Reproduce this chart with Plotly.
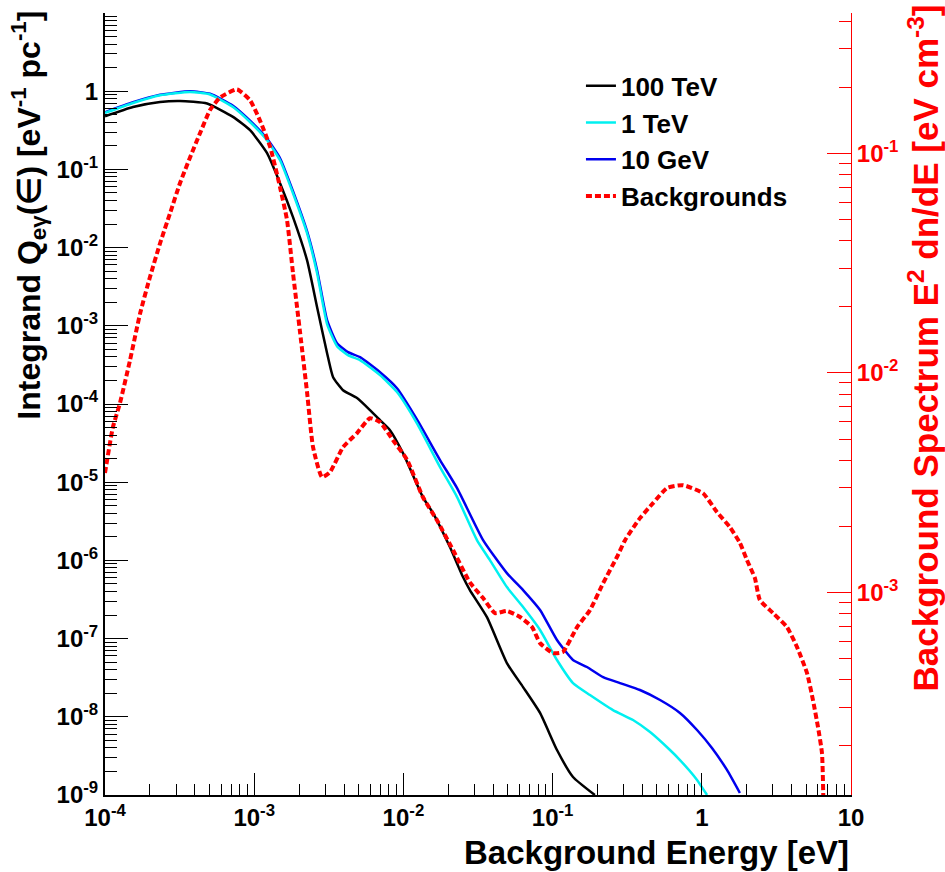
import plotly.graph_objects as go

# ---------------- data ----------------
# 100 TeV
e_100tev = [1.00e-4, 1.54e-4, 2.34e-4, 3.18e-4, 4.83e-4, 7.21e-4, 9.38e-4, 1.22e-3, 1.49e-3, 1.82e-3,
            2.26e-3, 2.64e-3, 3.08e-3, 3.38e-3, 3.94e-3, 4.89e-3, 5.97e-3, 6.97e-3, 8.13e-3, 9.94e-3,
            1.35e-2, 1.58e-2, 2.05e-2, 2.51e-2, 2.79e-2, 3.63e-2, 4.94e-2, 6.34e-2, 8.24e-2, 1.07e-1,
            1.37e-1, 1.92e-1]
q_100tev = [0.478, 0.629, 0.728, 0.750, 0.695, 0.469, 0.317, 0.161, 0.0665, 0.0245,
            6.90e-3, 1.73e-3, 4.47e-4, 2.20e-4, 1.50e-4, 1.19e-4, 8.35e-5, 6.22e-5, 4.63e-5, 2.35e-5,
            6.45e-6, 4.03e-6, 1.48e-6, 6.12e-7, 4.17e-7, 1.88e-7, 4.87e-8, 2.40e-8, 1.12e-8, 3.76e-9,
            1.70e-9, 1.00e-9]

# 1 TeV
e_1tev = [1.00e-4, 1.54e-4, 2.34e-4, 3.72e-4, 5.06e-4, 7.21e-4, 9.38e-4, 1.22e-3, 1.49e-3, 1.82e-3,
          2.26e-3, 2.64e-3, 3.08e-3, 3.59e-3, 4.25e-3, 5.12e-3, 6.97e-3, 9.06e-3, 1.23e-2, 1.76e-2,
          2.29e-2, 3.11e-2, 3.80e-2, 4.94e-2, 6.34e-2, 8.24e-2, 1.07e-1, 1.37e-1, 1.78e-1, 2.54e-1,
          3.46e-1, 4.50e-1, 6.12e-1, 7.14e-1, 9.29e-1, 1.084]
q_1tev = [0.527, 0.707, 0.887, 0.978, 0.906, 0.629, 0.404, 0.236, 0.131, 0.0496,
          0.0153, 4.71e-3, 1.05e-3, 5.49e-4, 4.21e-4, 3.64e-4, 2.34e-4, 1.42e-4, 5.69e-5, 1.56e-5,
          6.45e-6, 1.82e-6, 1.01e-6, 4.56e-7, 2.53e-7, 1.29e-7, 5.32e-8, 2.70e-8, 1.90e-8, 1.22e-8,
          9.10e-9, 6.38e-9, 3.76e-9, 2.80e-9, 1.56e-9, 1.00e-9]

# 10 GeV
e_10gev = [1.00e-4, 1.54e-4, 2.34e-4, 3.72e-4, 5.06e-4, 7.21e-4, 9.38e-4, 1.22e-3, 1.49e-3, 1.82e-3,
           2.26e-3, 2.64e-3, 3.08e-3, 3.59e-3, 4.25e-3, 5.12e-3, 6.97e-3, 9.06e-3, 1.23e-2, 1.76e-2,
           2.29e-2, 3.42e-2, 4.94e-2, 6.34e-2, 8.24e-2, 1.07e-1, 1.37e-1, 1.70e-1, 2.18e-1, 2.83e-1,
           3.85e-1, 5.25e-1, 7.14e-1, 9.29e-1, 1.17, 1.475, 1.80]
q_10gev = [0.538, 0.722, 0.900, 0.998, 0.927, 0.651, 0.419, 0.246, 0.139, 0.0526,
           0.0162, 5.14e-3, 1.18e-3, 6.00e-4, 4.60e-4, 3.97e-4, 2.55e-4, 1.59e-4, 6.40e-5, 1.92e-5,
           8.40e-6, 1.82e-6, 6.88e-7, 4.17e-7, 2.32e-7, 9.58e-8, 5.32e-8, 4.33e-8, 3.22e-8, 2.70e-8,
           2.20e-8, 1.64e-8, 1.12e-8, 6.78e-9, 3.99e-9, 2.09e-9, 1.06e-9]

# Backgrounds (right axis, E^2 dn/dE)
e_bkg = [1.00e-4, 1.13e-4, 1.26e-4, 1.47e-4, 1.72e-4, 2.00e-4, 2.34e-4, 2.73e-4, 3.18e-4, 3.72e-4,
         4.34e-4, 5.06e-4, 5.90e-4, 7.67e-4, 9.38e-4, 1.09e-3, 1.28e-3, 1.49e-3, 1.66e-3, 1.82e-3,
         2.03e-3, 2.26e-3, 2.48e-3, 2.85e-3, 3.22e-3, 3.94e-3, 4.89e-3, 5.97e-3, 6.97e-3, 8.51e-3,
         1.06e-2, 1.35e-2, 1.68e-2, 2.15e-2, 2.79e-2, 3.42e-2, 4.11e-2, 4.94e-2, 6.05e-2, 7.28e-2,
         8.24e-2, 1.006e-1, 1.17e-1, 1.46e-1, 1.78e-1, 2.18e-1, 2.70e-1, 3.06e-1, 3.85e-1, 4.71e-1,
         5.85e-1, 7.48e-1, 1.019, 1.265, 1.545, 1.80, 2.01, 2.27, 2.45, 3.00,
         3.72, 4.35, 5.07, 5.56, 6.01, 6.39, 6.55]
b_bkg = [3.50e-3, 5.66e-3, 7.29e-3, 1.14e-2, 1.87e-2, 2.73e-2, 3.90e-2, 5.35e-2, 7.32e-2, 9.62e-2,
         0.124, 0.158, 0.180, 0.196, 0.175, 0.142, 0.107, 7.02e-2, 4.97e-2, 2.85e-2,
         1.53e-2, 8.18e-3, 4.59e-3, 3.35e-3, 3.53e-3, 4.59e-3, 5.32e-3, 6.22e-3, 5.97e-3, 4.94e-3,
         4.01e-3, 2.72e-3, 2.13e-3, 1.56e-3, 1.11e-3, 9.42e-4, 8.05e-4, 8.22e-4, 7.72e-4, 6.95e-4,
         5.87e-4, 5.29e-4, 5.35e-4, 6.95e-4, 8.30e-4, 1.10e-3, 1.45e-3, 1.73e-3, 2.18e-3, 2.55e-3,
         2.99e-3, 3.08e-3, 2.83e-3, 2.32e-3, 1.98e-3, 1.68e-3, 1.40e-3, 1.16e-3, 9.23e-4, 8.05e-4,
         6.95e-4, 5.63e-4, 4.29e-4, 3.23e-4, 2.43e-4, 1.85e-4, 1.00e-4]

x_tickvals = [1e-4, 1e-3, 1e-2, 1e-1, 1, 10]
x_ticktext = ["10<sup>-4</sup>", "10<sup>-3</sup>", "10<sup>-2</sup>", "10<sup>-1</sup>", "1", "10"]
y_tickvals = [1e-9, 1e-8, 1e-7, 1e-6, 1e-5, 1e-4, 1e-3, 1e-2, 1e-1, 1, 10]
y_ticktext = ["10<sup>-9</sup>", "10<sup>-8</sup>", "10<sup>-7</sup>", "10<sup>-6</sup>", "10<sup>-5</sup>",
              "10<sup>-4</sup>", "10<sup>-3</sup>", "10<sup>-2</sup>", "10<sup>-1</sup>", "1", "10"]
y2_tickvals = [1e-3, 1e-2, 1e-1]
y2_ticktext = ["10<sup>-3</sup>", "10<sup>-2</sup>", "10<sup>-1</sup>"]

# ---------------- figure ----------------
FONT = "Liberation Sans, Arial, sans-serif"
fig = go.Figure()

fig.add_trace(go.Scatter(x=e_100tev, y=q_100tev, mode="lines", name="100 TeV",
                         line=dict(color="black", width=2.5, shape="spline", smoothing=0.5),
                         legendrank=1))
fig.add_trace(go.Scatter(x=e_10gev, y=q_10gev, mode="lines", name="10 GeV",
                         line=dict(color="#0000ee", width=2.5, shape="spline", smoothing=0.5),
                         legendrank=3))
fig.add_trace(go.Scatter(x=e_1tev, y=q_1tev, mode="lines", name="1 TeV",
                         line=dict(color="#00f0f0", width=2.5, shape="spline", smoothing=0.5),
                         legendrank=2))
fig.add_trace(go.Scatter(x=e_bkg, y=b_bkg, mode="lines", name="Backgrounds", yaxis="y2",
                         line=dict(color="#ff0000", width=4, dash="6px,3px", shape="spline", smoothing=0.5),
                         legendrank=4))

minor_x = [m * 10.0 ** k for k in range(-4, 1) for m in range(2, 10)]
minor_y = [m * 10.0 ** k for k in range(-9, 1) for m in range(2, 10)]
minor_y2 = [m * 10.0 ** k for k in range(-4, 0) for m in range(2, 10)]

tickfont = dict(family=FONT, size=24, color="black", weight="bold")

fig.update_layout(
    width=945, height=872,
    margin=dict(l=105, r=94, t=13, b=77),
    paper_bgcolor="white", plot_bgcolor="white",
    showlegend=True,
    legend=dict(x=0.638, y=0.937, xanchor="left", yanchor="top",
                bgcolor="rgba(0,0,0,0)", borderwidth=0,
                font=dict(family=FONT, size=26, color="black", weight="bold"),
                traceorder="normal"),
    xaxis=dict(type="log", range=[-4, 1], showline=True, linecolor="black", linewidth=2,
               ticks="inside", ticklen=22, tickwidth=1, tickcolor="black",
               tickmode="array", tickvals=x_tickvals, ticktext=x_ticktext,
               tickfont=tickfont, showgrid=False, zeroline=False,
               minor=dict(ticks="inside", ticklen=11, tickwidth=1, tickcolor="black",
                          tickmode="array", tickvals=minor_x, showgrid=False)),
    xaxis2=dict(type="log", range=[-4, 1], overlaying="x", side="top", anchor="y",
                showline=True, linecolor="black", linewidth=1,
                ticks="inside", ticklen=22, tickwidth=1, tickcolor="black",
                tickmode="array", tickvals=x_tickvals, showticklabels=False,
                showgrid=False, zeroline=False,
                minor=dict(ticks="inside", ticklen=11, tickwidth=1, tickcolor="black",
                           tickmode="array", tickvals=minor_x, showgrid=False)),
    yaxis=dict(type="log", range=[-9, 1], showline=True, linecolor="black", linewidth=2,
               ticks="inside", ticklen=23, tickwidth=1, tickcolor="black",
               tickmode="array", tickvals=y_tickvals, ticktext=y_ticktext,
               tickfont=tickfont, showgrid=False, zeroline=False,
               minor=dict(ticks="inside", ticklen=12, tickwidth=1, tickcolor="black",
                          tickmode="array", tickvals=minor_y, showgrid=False)),
    yaxis2=dict(type="log", range=[-3.9235, -0.3595], overlaying="y", side="right", anchor="x",
                showline=True, linecolor="#ff0000", linewidth=1,
                ticks="inside", ticklen=24, tickwidth=1, tickcolor="#ff0000",
                tickmode="array", tickvals=y2_tickvals, ticktext=y2_ticktext,
                tickfont=dict(family=FONT, size=24, color="#ff0000", weight="bold"),
                showgrid=False, zeroline=False,
                minor=dict(ticks="inside", ticklen=12, tickwidth=1, tickcolor="#ff0000",
                           tickmode="array", tickvals=minor_y2, showgrid=False)),
    annotations=[
        dict(text="Background Energy [eV]", xref="paper", yref="paper",
             x=1.0, y=-0.0467, xanchor="right", yanchor="top", showarrow=False,
             font=dict(family=FONT, size=33, color="black", weight="bold")),
        dict(text="Integrand Q<sub>eγ</sub>(∈) [eV<sup>-1</sup> pc<sup>-1</sup>]",
             xref="paper", yref="paper", x=-0.102, y=1.006, xanchor="center", yanchor="top",
             textangle=-90, showarrow=False,
             font=dict(family=FONT, size=32, color="black", weight="bold")),
        dict(text="Background Spectrum E<sup>2</sup> dn/dE [eV cm<sup>-3</sup>]",
             xref="paper", yref="paper", x=1.098, y=1.013, xanchor="center", yanchor="top",
             textangle=-90, showarrow=False,
             font=dict(family=FONT, size=35, color="#ff0000", weight="bold")),
    ],
)

fig.write_html("out.html")
